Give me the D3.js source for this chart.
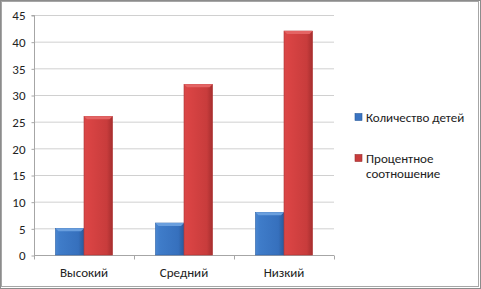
<!DOCTYPE html>
<html><head><meta charset="utf-8">
<script src="https://cdn.jsdelivr.net/npm/d3@7"></script>
<style>body{margin:0;background:#fff;}svg{display:block;}</style>
</head><body>
<script>
const categories = ["Высокий", "Средний", "Низкий"];
const seriesNames = ["Количество детей", "Процентное соотношение"];
const countValues = [5, 6, 8];
const percentValues = [26, 32, 42];
const yTicks = [0, 5, 10, 15, 20, 25, 30, 35, 40, 45];

const W = 481, H = 289;
const svg = d3.select("body").append("svg").attr("width", W).attr("height", H);
const font = "Calibri, Carlito, 'Liberation Sans', Arial, sans-serif";

// frame
svg.append("rect").attr("x", 0.5).attr("y", 0.5).attr("width", W - 1).attr("height", H - 1)
  .attr("fill", "#fff").attr("stroke", "#8c8c8c");
svg.append("rect").attr("x", 1.5).attr("y", 1.5).attr("width", W - 4).attr("height", H - 4)
  .attr("fill", "none").attr("stroke", "#a6a6a6");

const defs = svg.append("defs");
function grad(id, stops) {
  const g = defs.append("linearGradient").attr("id", id).attr("x1", 0).attr("x2", 1).attr("y1", 0).attr("y2", 0);
  stops.forEach(s => g.append("stop").attr("offset", s[0]).attr("stop-color", s[1]));
}
grad("gBlue", [[0, "#4a86d0"], [0.15, "#3f7cc9"], [0.8, "#3670bd"], [1, "#2a5a9c"]]);
grad("gRed", [[0, "#d84848"], [0.15, "#da4444"], [0.8, "#c83c3c"], [1, "#a52e2e"]]);

const x0 = d3.scaleBand().domain(categories).range([34, 334]).paddingInner(0).paddingOuter(0);
const y = d3.scaleLinear().domain([0, 45]).range([255, 15]);

// gridlines
svg.append("g").selectAll("line").data(yTicks.filter(d => d > 0)).join("line")
  .attr("x1", 34).attr("x2", 334).attr("y1", d => y(d) + 0.5).attr("y2", d => y(d) + 0.5)
  .attr("stroke", "#d0d0d0");

// y axis
const yAxis = svg.append("g").attr("transform", "translate(34.5,0.5)")
  .call(d3.axisLeft(y).tickValues(yTicks).tickSize(3).tickPadding(6));
yAxis.select(".domain").attr("stroke", "#a6a6a6").attr("d", `M-3,${y(45)}H0V${y(0)}`);
yAxis.selectAll(".tick line").attr("stroke", "#a6a6a6");
yAxis.selectAll("text").attr("font-family", font).attr("font-size", 13).attr("fill", "#222");

// x axis
const xAxis = svg.append("g").attr("transform", "translate(0,255.5)");
xAxis.append("line").attr("x1", 34).attr("x2", 334).attr("stroke", "#a6a6a6");
xAxis.selectAll(".tk").data(categories.concat(["end"])).join("line").attr("class", "tk")
  .attr("x1", (d, i) => 34.5 + i * x0.bandwidth()).attr("x2", (d, i) => 34.5 + i * x0.bandwidth())
  .attr("y1", 0).attr("y2", 4).attr("stroke", "#a6a6a6");
xAxis.selectAll("text").data(categories).join("text")
  .attr("x", d => x0(d) + x0.bandwidth() / 2).attr("y", 21)
  .attr("text-anchor", "middle").attr("font-family", font).attr("font-size", 13).attr("fill", "#222")
  .text(d => d);

const x1 = d3.scaleBand().domain([0, 1]).range([0, x0.bandwidth()]).paddingOuter(0.75).paddingInner(0);

const data = categories.map((c, i) => ({ c, vals: [countValues[i], percentValues[i]] }));
const fills = ["url(#gBlue)", "url(#gRed)"];
const tops = ["#6a9fde", "#e46464"];
const edges = ["#2f63a8", "#b03434"];

data.forEach(d => {
  d.vals.forEach((v, s) => {
    const bx = x0(d.c) + x1(s), bw = x1.bandwidth();
    const by = y(v), bh = y(0) - y(v);
    svg.append("rect").attr("x", bx).attr("y", by).attr("width", bw).attr("height", bh)
      .attr("fill", fills[s]).attr("stroke", edges[s]).attr("stroke-width", 0.6);
    // top bevel
    svg.append("path")
      .attr("d", `M${bx},${by}H${bx + bw}L${bx + bw - 3},${by + 3}H${bx + 3}Z`)
      .attr("fill", tops[s]);
  });
});

// legend
const lg = svg.append("g");
const legendItems = [
  { color: "#3a74c2", lines: ["Количество детей"], y: 117 },
  { color: "#c83c3c", lines: ["Процентное", "соотношение"], y: 158 }
];
legendItems.forEach((it, i) => {
  lg.append("rect").attr("x", 355).attr("y", it.y - 3.5).attr("width", 7).attr("height", 7)
    .attr("fill", it.color).attr("stroke", i ? "#9a2e2e" : "#2a5a9c").attr("stroke-width", 0.6);
  it.lines.forEach((t, j) => {
    lg.append("text").attr("x", 366).attr("y", it.y + 4.5 + j * 15)
      .attr("font-family", font).attr("font-size", 13).attr("fill", "#222").text(t);
  });
});
</script>
</body></html>
